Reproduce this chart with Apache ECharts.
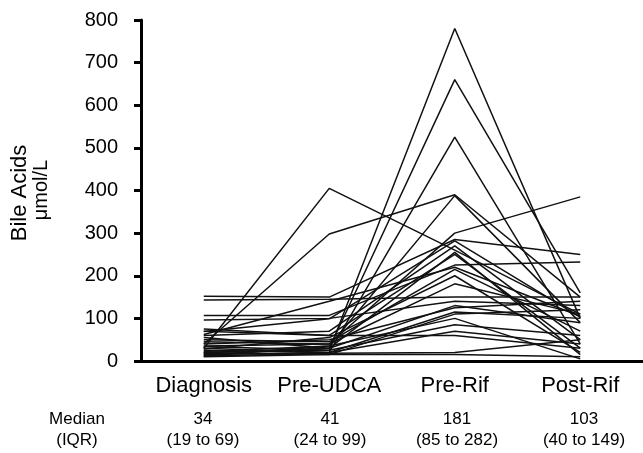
<!DOCTYPE html>
<html>
<head>
<meta charset="utf-8">
<script src="https://cdn.jsdelivr.net/npm/echarts@6/dist/echarts.min.js"></script>
<style>
  html, body { margin: 0; padding: 0; background: #fff; }
  #chart { width: 643px; height: 453px; }
</style>
</head>
<body>
<div id="chart"></div>
<script>
// time points
const timePoints = ['Diagnosis', 'Pre-UDCA', 'Pre-Rif', 'Post-Rif']
// median and IQR shown under each time point
const medians = ['34', '41', '181', '103']
const iqrs = ['(19 to 69)', '(24 to 99)', '(85 to 282)', '(40 to 149)']
const yTicks = { min: 0, max: 800, step: 100 }

// one row per patient: Diagnosis, Pre-UDCA, Pre-Rif, Post-Rif (umol/L)
const patients = [
  [30, 405, 260, 110],
  [40, 298, 390, 150],
  [20, 25, 780, 100],
  [15, 30, 660, 160],
  [25, 20, 525, 40],
  [12, 35, 388, 90],
  [35, 40, 300, 385],
  [152, 150, 285, 250],
  [143, 145, 150, 150],
  [107, 107, 225, 232],
  [96, 100, 140, 130],
  [62, 140, 220, 105],
  [75, 60, 250, 30],
  [60, 70, 270, 50],
  [50, 45, 215, 70],
  [20, 30, 255, 15],
  [40, 50, 125, 140],
  [30, 20, 115, 100],
  [18, 15, 110, 120],
  [22, 35, 100, 5],
  [34, 25, 85, 60],
  [15, 20, 70, 40],
  [12, 18, 20, 50],
  [70, 60, 60, 30],
  [45, 40, 181, 110],
  [28, 55, 200, 20],
  [10, 15, 15, 10],
  [55, 30, 130, 90],
  [69, 99, 282, 103]
]

const font = 'Liberation Sans, Arial, sans-serif'
const chart = echarts.init(document.getElementById('chart'))

const colX = [203, 330, 457, 584]
const small = '17px ' + font
const footer = [
  { type: 'text', x: 77, y: 419, style: { text: 'Median', font: small, fill: '#000', align: 'center', verticalAlign: 'middle' } },
  { type: 'text', x: 77, y: 440, style: { text: '(IQR)', font: small, fill: '#000', align: 'center', verticalAlign: 'middle' } }
]
medians.forEach((m, i) => {
  footer.push({ type: 'text', x: colX[i], y: 419, style: { text: m, font: small, fill: '#000', align: 'center', verticalAlign: 'middle' } })
  footer.push({ type: 'text', x: colX[i], y: 440, style: { text: iqrs[i], font: small, fill: '#000', align: 'center', verticalAlign: 'middle' } })
})
// y axis title, two lines rotated
footer.push({ type: 'text', x: 20, y: 193, rotation: Math.PI / 2, style: { text: 'Bile Acids', font: '22px ' + font, fill: '#000', align: 'center', verticalAlign: 'middle' } })
footer.push({ type: 'text', x: 41, y: 190, rotation: Math.PI / 2, style: { text: 'μmol/L', font: '20px ' + font, fill: '#000', align: 'center', verticalAlign: 'middle' } })

chart.setOption({
  animation: false,
  grid: { left: 141, top: 20, width: 507, height: 341 },
  xAxis: {
    type: 'category',
    data: timePoints,
    boundaryGap: true,
    axisLine: { lineStyle: { color: '#000', width: 3 } },
    axisTick: { alignWithLabel: true, length: 7, lineStyle: { color: '#000', width: 3 } },
    axisLabel: { color: '#000', fontSize: 22, fontFamily: font, margin: 14, interval: 0 }
  },
  yAxis: {
    type: 'value',
    min: yTicks.min,
    max: yTicks.max,
    interval: yTicks.step,
    splitLine: { show: false },
    axisLine: { show: true, lineStyle: { color: '#000', width: 3 } },
    axisTick: { show: true, length: 7, lineStyle: { color: '#000', width: 3 } },
    axisLabel: { color: '#000', fontSize: 20, fontFamily: font, margin: 23 }
  },
  graphic: footer,
  series: patients.map((p, i) => ({
    name: 'P' + (i + 1),
    type: 'line',
    data: p,
    symbol: 'none',
    silent: true,
    lineStyle: { color: '#111', width: 1.5 }
  }))
})
</script>
</body>
</html>
